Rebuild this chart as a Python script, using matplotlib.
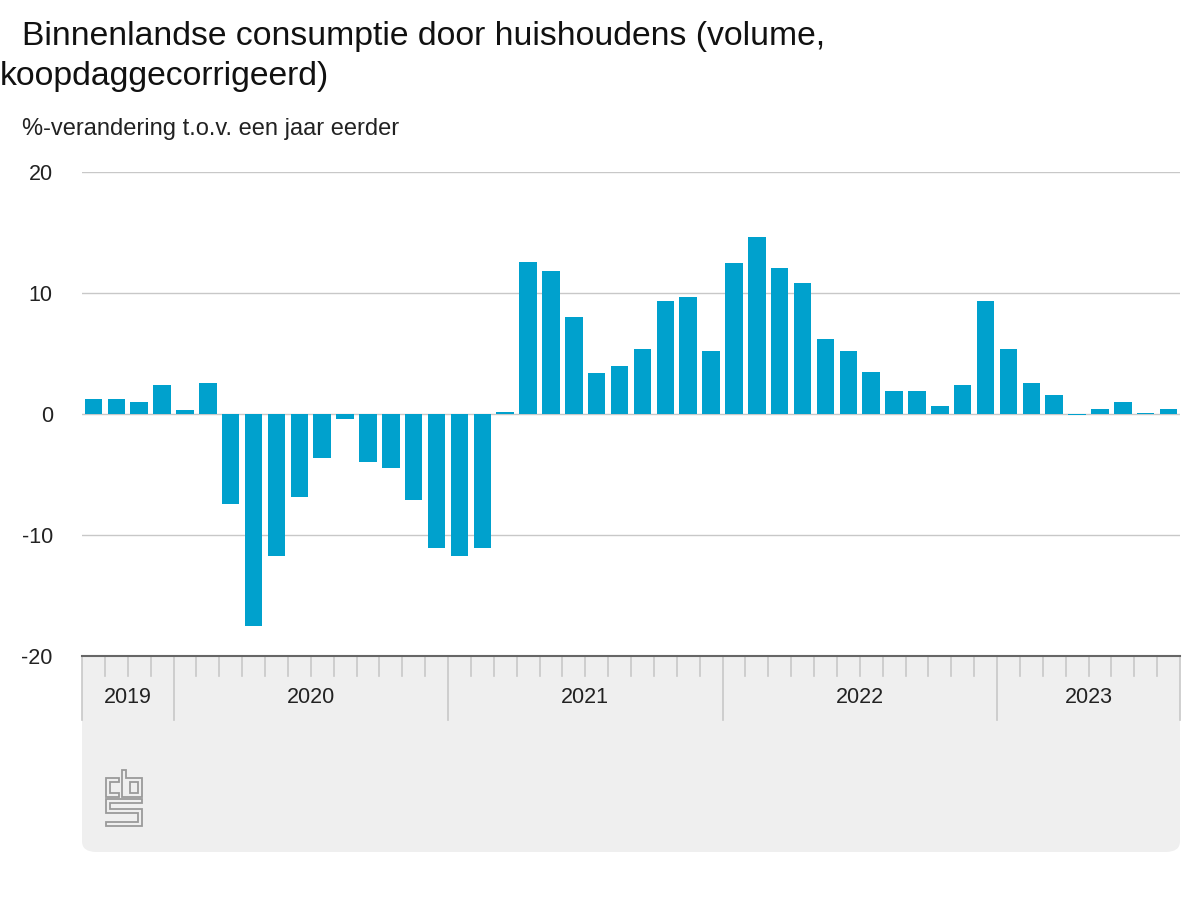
import matplotlib.pyplot as plt
from matplotlib.patches import FancyBboxPatch, Polygon
import numpy as np

plt.rcParams['font.family'] = ['Liberation Sans', 'DejaVu Sans']

# maandcijfers sep 2019 t/m aug 2023
years = ["2019", "2020", "2021", "2022", "2023"]
months_per_year = [4, 12, 12, 12, 8]
values = [
    1.2, 1.2, 1.0, 2.4,
    0.3, 2.6, -7.4, -17.5, -11.7, -6.9, -3.6, -0.4, -4.0, -4.5, -7.1, -11.1,
    -11.7, -11.1, 0.2, 12.6, 11.8, 8.0, 3.4, 4.0, 5.4, 9.3, 9.7, 5.2,
    12.5, 14.6, 12.1, 10.8, 6.2, 5.2, 3.5, 1.9, 1.9, 0.7, 2.4, 9.3,
    5.4, 2.6, 1.6, -0.1, 0.4, 1.0, 0.1, 0.4,
]
yticks = [-20, -10, 0, 10, 20]

W, H = 1200, 900
def px(x, y):
    return (x / W, 1 - y / H)

fig = plt.figure(figsize=(12, 9), dpi=100)
ax = fig.add_axes([82 / W, 1 - 656 / H, (1180 - 82) / W, (656 - 172) / H])
ax.set_facecolor("white")

# grijze band onder de as
band = FancyBboxPatch(px(82, 852), (1180 - 82) / W, (852 - 640) / H,
                      boxstyle="round,pad=0,rounding_size=0.012",
                      transform=fig.transFigure, facecolor="#efefef",
                      edgecolor="none", zorder=-5)
fig.patches.append(band)

x = np.arange(len(values))
ax.bar(x, values, width=0.77, color="#00a1cd", zorder=3)

ax.set_xlim(-0.5, len(values) - 0.5)
ax.set_ylim(-20, 20)
ax.set_yticks(yticks)
ax.set_yticklabels([str(v) for v in yticks], fontsize=15.5, color="#222")
ax.tick_params(axis="y", length=0, pad=21)
ax.set_xticks([])
for v in yticks[1:]:
    ax.axhline(v, color="#c8c8c8", lw=1, zorder=1)
for s in ["top", "right", "left"]:
    ax.spines[s].set_visible(False)
ax.spines["bottom"].set_color("#666666")
ax.spines["bottom"].set_linewidth(1.5)

# maand- en jaarstreepjes
tr = ax.get_xaxis_transform()
starts = np.cumsum([0] + months_per_year)
for b in range(len(values) + 1):
    edge = b - 0.5
    if b in starts:
        ax.plot([edge, edge], [0, -0.132], transform=tr, color="#c8c8c8",
                lw=1.2, clip_on=False, zorder=2)
    else:
        ax.plot([edge, edge], [0, -0.041], transform=tr, color="#c8c8c8",
                lw=1.2, clip_on=False, zorder=2)
for i, yr in enumerate(years):
    mid = (starts[i] + starts[i + 1]) / 2 - 0.5
    ax.text(mid, -0.085, yr, transform=tr, ha="center", va="center",
            fontsize=15.5, color="#222")

fig.text(*px(22, 37), "Binnenlandse consumptie door huishoudens (volume,",
         fontsize=24.3, va="center", ha="left", color="#111")
fig.text(*px(0, 76), "koopdaggecorrigeerd)",
         fontsize=24.3, va="center", ha="left", color="#111")
fig.text(*px(22, 129), "%-verandering t.o.v. een jaar eerder",
         fontsize=17, va="center", ha="left", color="#222")

# cbs logo (vereenvoudigd)
logo = [
    [(119, 778), (106, 778), (106, 797), (119, 797), (119, 793), (110, 793),
     (110, 782), (119, 782)],
    [(122, 770), (126, 770), (126, 778), (142, 778), (142, 797), (122, 797)],
    [(130, 782), (138, 782), (138, 793), (130, 793)],
    [(142, 799), (106, 799), (106, 813), (138, 813), (138, 822), (106, 822),
     (106, 826), (142, 826), (142, 809), (110, 809), (110, 803), (142, 803)],
]
for shape in logo:
    fig.patches.append(Polygon([px(a, b) for a, b in shape], closed=True,
                               fill=False, edgecolor="#9a9a9a", lw=1.3,
                               transform=fig.transFigure))

fig.savefig("out.png", dpi=100)
